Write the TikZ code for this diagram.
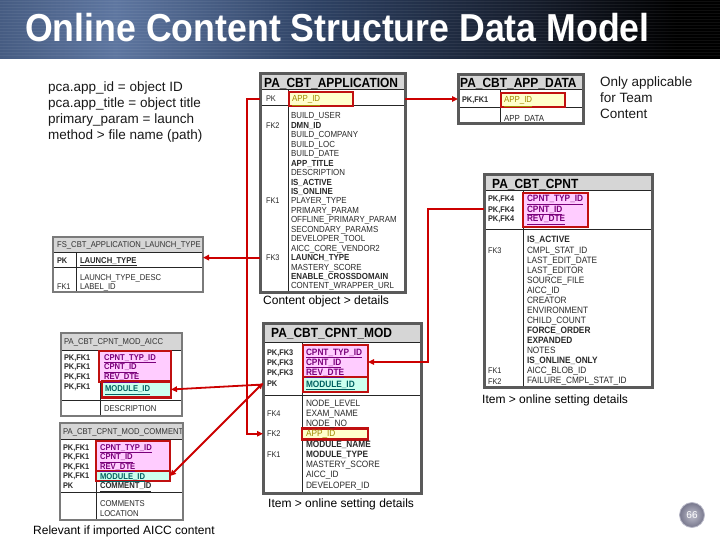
\documentclass[tikz,border=0pt]{standalone}
\usepackage{fontspec}
\setmainfont{Liberation Sans}
\newfontfamily\nfont[FakeStretch=0.9]{Liberation Sans}
\newfontfamily\tfont[FakeStretch=0.915]{Liberation Sans}
\usetikzlibrary{arrows.meta}
\definecolor{redc}{HTML}{CC0000}
\definecolor{boxred}{HTML}{C01010}
\definecolor{yel}{HTML}{FFFFCC}
\definecolor{pinkf}{HTML}{FFCCFF}
\definecolor{cyanf}{HTML}{CCFFEE}
\definecolor{purp}{HTML}{7A007A}
\definecolor{tealc}{HTML}{006060}
\definecolor{olivec}{HTML}{A08A00}
\definecolor{hdrg}{HTML}{D6D6D6}
\definecolor{bordc}{HTML}{5A5A5A}
\definecolor{bordc2}{HTML}{7A7A7A}
\definecolor{fldc}{HTML}{2A2A2A}
\definecolor{tbA}{HTML}{465C82}
\definecolor{tbB}{HTML}{5E76A0}
\definecolor{tbC}{HTML}{2E4264}
\definecolor{tbD}{HTML}{161D2C}
\definecolor{badgec}{RGB}{140,140,165}
\pgfdeclarehorizontalshading{titleshade}{100bp}{color(0bp)=(tbA); color(25bp)=(tbA); color(33bp)=(tbB); color(47bp)=(tbC); color(62bp)=(tbD); color(72bp)=(black); color(100bp)=(black)}
\begin{document}
\begin{tikzpicture}[x=1pt,y=-1pt,
  tblbg/.style={fill=white, draw=none, inner sep=0, outer sep=0, anchor=north west},
  hband/.style={fill=hdrg, draw=none, inner sep=0, outer sep=0, anchor=north west},
  bigborder/.style={draw=bordc, line width=3},
  smallborder/.style={draw=bordc2, line width=2},
  inner/.style={draw=black!85, line width=1},
  redbox/.style={draw=boxred, line width=2.4, inner sep=0, outer sep=0, anchor=north west},
  hbig/.style={font=\nfont\bfseries\fontsize{13.3}{14}\selectfont, inner sep=0, anchor=west, text height=9.5pt, text depth=0pt},
  hsmall/.style={font=\nfont\fontsize{8.5}{9}\selectfont, inner sep=0, anchor=west, text height=6pt, text depth=0pt, text=black!80},
  fbase/.style={text=fldc, inner sep=0, outer sep=0, anchor=west, text height=6pt, text depth=0pt},
  fan/.style={fbase, font=\nfont\fontsize{8.8}{9}\selectfont},
  fab/.style={fbase, font=\nfont\bfseries\fontsize{8.8}{9}\selectfont},
  fcn/.style={fbase, font=\nfont\fontsize{9.2}{9}\selectfont},
  fcb/.style={fbase, font=\nfont\bfseries\fontsize{9.2}{9}\selectfont},
  fco/.style={fcn, text=olivec},
  fsn/.style={fbase, font=\nfont\fontsize{8.5}{9}\selectfont},
  fsb/.style={fbase, font=\nfont\bfseries\fontsize{8.5}{9}\selectfont},
  keyn/.style={fbase, font=\nfont\fontsize{8.2}{9}\selectfont},
  keyb/.style={fbase, font=\nfont\bfseries\fontsize{8.2}{9}\selectfont},
  pkp/.style={fbase, text=purp},
  pkt/.style={fbase, text=tealc},
  pko/.style={fbase, text=olivec},
  caption/.style={font=\fontsize{12}{14}\selectfont, inner sep=0, anchor=base west, text=black},
  desc/.style={font=\fontsize{13.5}{16}\selectfont, inner sep=0, anchor=base west, text=black!90},
  conn/.style={draw=redc, line width=1.8, -{Triangle[length=6pt,width=5.5pt]}},
  conn2/.style={draw=redc, line width=1.8, {Triangle[length=6pt,width=5.5pt]}-{Triangle[length=6pt,width=5.5pt]}}
]
\useasboundingbox (0,0) rectangle (720,540);
\fill[white] (0,0) rectangle (720,540);
% ---------- title bar
\shade[shading=titleshade] (0,0) rectangle (720,59);
\foreach \yy in {1.5,4.5,...,58} \draw[white, opacity=0.06, line width=0.8] (0,\yy) -- (720,\yy);
\node[font=\tfont\bfseries\fontsize{39}{40}\selectfont, text=white, inner sep=0, anchor=base west] (title) at (25,42) {Online Content Structure Data Model};

% ---------- description texts
\node[desc] (d1) at (48,92) {pca.app\_id = object ID};
\node[desc] (d2) at (48,108) {pca.app\_title = object title};
\node[desc] (d3) at (48,124) {primary\_param = launch};
\node[desc] (d4) at (48,140) {method > file name (path)};
\node[desc] (o1) at (600,87) {Only applicable};
\node[desc] (o2) at (600,103) {for Team};
\node[desc] (o3) at (600,119) {Content};

% ---------- PA_CBT_APPLICATION
\node[tblbg, minimum width=145, minimum height=218] (app) at (260,74) {};
\node[hband, minimum width=145, minimum height=16] (app-h) at (260,74) {};
\node[hbig] (app-t) at (264,82.5) {PA\_CBT\_APPLICATION};
\draw[inner] (260,90) -- (405,90);
\draw[inner] (288,90) -- (288,292);
\draw[inner] (260,106) -- (405,106);
\node[redbox, fill=yel, minimum width=64, minimum height=14] (app-pk) at (289,92) {};
\node[keyn] (app-kpk) at (266,98.5) {PK};
\node[fan, pko] (app-pkf) at (292,99) {\underline{APP\_ID}};
\begin{scope}
\clip (260,74) rectangle (405,290.5);
\foreach [count=\i from 0] \t/\w in {BUILD\_USER/n, DMN\_ID/b, BUILD\_COMPANY/n, BUILD\_LOC/n, BUILD\_DATE/n, APP\_TITLE/b, DESCRIPTION/n, IS\_ACTIVE/b, IS\_ONLINE/b, PLAYER\_TYPE/n, PRIMARY\_PARAM/n, OFFLINE\_PRIMARY\_PARAM/n, SECONDARY\_PARAMS/n, DEVELOPER\_TOOL/n, AICC\_CORE\_VENDOR2/n, LAUNCH\_TYPE/b, MASTERY\_SCORE/n, ENABLE\_CROSSDOMAIN/b, CONTENT\_WRAPPER\_URL/n}
  \node[fa\w] (app-f\i) at (291,{116+9.44*\i}) {\t};
\end{scope}
\node[keyn] (app-k2) at (266,125.4) {FK2};
\node[keyn] (app-k1) at (266,201) {FK1};
\node[keyn] (app-k3) at (266,257.6) {FK3};
\draw[bigborder] (app.north west) rectangle (app.south east);
\node[caption] (cap1) at (263,304) {Content object > details};

% ---------- PA_CBT_APP_DATA
\node[tblbg, minimum width=125, minimum height=49] (ad) at (458,75) {};
\node[hband, minimum width=125, minimum height=15] (ad-h) at (458,75) {};
\node[hbig] (ad-t) at (460,83) {PA\_CBT\_APP\_DATA};
\draw[inner] (458,90) -- (583,90);
\draw[inner] (500,90) -- (500,124);
\draw[inner] (458,108) -- (583,108);
\node[redbox, fill=yel, minimum width=64, minimum height=14] (ad-pk) at (501,93) {};
\node[keyb] (ad-kpk) at (462,99.5) {PK,FK1};
\node[fan, pko] (ad-pkf) at (504,100) {\underline{APP\_ID}};
\begin{scope}
\clip (458,75) rectangle (583,122.5);
\node[fan] (ad-f1) at (504,119) {APP\_DATA};
\end{scope}
\draw[bigborder] (ad.north west) rectangle (ad.south east);

% ---------- PA_CBT_CPNT
\node[tblbg, minimum width=168, minimum height=212] (cpnt) at (484,175) {};
\node[hband, minimum width=168, minimum height=16] (cpnt-h) at (484,175) {};
\node[hbig] (cpnt-t) at (492,183.5) {PA\_CBT\_CPNT};
\draw[inner] (484,191) -- (652,191);
\draw[inner] (523,191) -- (523,387);
\draw[inner] (484,230) -- (652,230);
\node[redbox, fill=pinkf, minimum width=65, minimum height=34] (cpnt-pk) at (523,193) {};
\node[keyb] (cpnt-k0) at (488,199) {PK,FK4};
\node[keyb] (cpnt-k1) at (488,209) {PK,FK4};
\node[keyb] (cpnt-k2) at (488,218.5) {PK,FK4};
\node[fcb, pkp] (cpnt-p0) at (527,199) {\underline{CPNT\_TYP\_ID}};
\node[fcb, pkp] (cpnt-p1) at (527,209) {\underline{CPNT\_ID}};
\node[fcb, pkp] (cpnt-p2) at (527,218.5) {\underline{REV\_DTE}};
\foreach [count=\i from 0] \t/\w in {IS\_ACTIVE/b, CMPL\_STAT\_ID/n, LAST\_EDIT\_DATE/n, LAST\_EDITOR/n, SOURCE\_FILE/n, AICC\_ID/n, CREATOR/n, ENVIRONMENT/n, CHILD\_COUNT/n, FORCE\_ORDER/b, EXPANDED/b, NOTES/n, IS\_ONLINE\_ONLY/b, AICC\_BLOB\_ID/n, FAILURE\_CMPL\_STAT\_ID/n}
  \node[fc\w] (cpnt-f\i) at (527,{240+10.07*\i}) {\t};
\node[keyn] (cpnt-k3) at (488,250.1) {FK3};
\node[keyn] (cpnt-k4) at (488,370.9) {FK1};
\node[keyn] (cpnt-k5) at (488,381) {FK2};
\draw[bigborder] (cpnt.north west) rectangle (cpnt.south east);
\node[caption] (cap2) at (482,403) {Item > online setting details};

% ---------- FS_CBT_APPLICATION_LAUNCH_TYPE
\node[tblbg, minimum width=150, minimum height=55] (fs) at (53,237) {};
\node[hband, minimum width=150, minimum height=15] (fs-h) at (53,237) {};
\node[hsmall] (fs-t) at (57,244.5) {FS\_CBT\_APPLICATION\_LAUNCH\_TYPE};
\draw[inner] (53,252) -- (203,252);
\draw[inner] (76,252) -- (76,292);
\draw[inner] (53,267) -- (203,267);
\node[keyb] (fs-kpk) at (57,260) {PK};
\node[fsb] (fs-pk) at (80,260) {\underline{LAUNCH\_TYPE}};
\node[fsn] (fs-f1) at (80,277) {LAUNCH\_TYPE\_DESC};
\node[fsn] (fs-f2) at (80,286) {LABEL\_ID};
\node[keyn] (fs-k1) at (57,286) {FK1};
\draw[smallborder] (fs.north west) rectangle (fs.south east);

% ---------- PA_CBT_CPNT_MOD_AICC
\node[tblbg, minimum width=121, minimum height=83] (aicc) at (61,333) {};
\node[hband, minimum width=121, minimum height=17] (aicc-h) at (61,333) {};
\node[hsmall] (aicc-t) at (64,341.5) {PA\_CBT\_CPNT\_MOD\_AICC};
\draw[inner] (61,350) -- (182,350);
\draw[inner] (100,350) -- (100,416);
\draw[inner] (61,400) -- (182,400);
\node[redbox, fill=pinkf, minimum width=72, minimum height=31] (aicc-pk1) at (99,351) {};
\node[redbox, fill=cyanf, minimum width=69, minimum height=16] (aicc-pk2) at (102,381.5) {};
\foreach [count=\i from 0] \t in {CPNT\_TYP\_ID, CPNT\_ID, REV\_DTE}
  \node[fsb, pkp] (aicc-p\i) at (104,{357+9.8*\i}) {\underline{\t}};
\node[fsb, pkt] (aicc-p3) at (105,388.5) {\underline{MODULE\_ID}};
\foreach \i in {0,1,2,3}
  \node[keyb] (aicc-k\i) at (64,{357+9.9*\i}) {PK,FK1};
\node[fsn] (aicc-f1) at (104,408) {DESCRIPTION};
\draw[smallborder] (aicc.north west) rectangle (aicc.south east);

% ---------- PA_CBT_CPNT_MOD_COMMENT
\node[tblbg, minimum width=123, minimum height=97] (cmt) at (60,423) {};
\node[hband, minimum width=123, minimum height=16] (cmt-h) at (60,423) {};
\node[hsmall] (cmt-t) at (63,431) {PA\_CBT\_CPNT\_MOD\_COMMENT};
\draw[inner] (60,439) -- (183,439);
\draw[inner] (96,439) -- (96,520);
\draw[inner] (60,492) -- (183,492);
\node[redbox, fill=pinkf, minimum width=74, minimum height=30] (cmt-pk1) at (96,441) {};
\node[redbox, fill=cyanf, minimum width=74, minimum height=10] (cmt-pk2) at (96,471) {};
\foreach [count=\i from 0] \t in {CPNT\_TYP\_ID, CPNT\_ID, REV\_DTE}
  \node[fsb, pkp] (cmt-p\i) at (100,{447+9.6*\i}) {\underline{\t}};
\node[fsb, pkt] (cmt-p3) at (100,476) {\underline{MODULE\_ID}};
\node[fsb] (cmt-p4) at (100,485.5) {\underline{COMMENT\_ID}};
\foreach \i in {0,1,2,3}
  \node[keyb] (cmt-k\i) at (63,{447+9.6*\i}) {PK,FK1};
\node[keyb] (cmt-k4) at (63,485.5) {PK};
\node[fsn] (cmt-f1) at (100,503) {COMMENTS};
\node[fsn] (cmt-f2) at (100,513) {LOCATION};
\draw[smallborder] (cmt.north west) rectangle (cmt.south east);
\node[caption] (cap4) at (33,534) {Relevant if imported AICC content};

% ---------- PA_CBT_CPNT_MOD
\node[tblbg, minimum width=158, minimum height=170] (mod) at (263,323) {};
\node[hband, minimum width=158, minimum height=19] (mod-h) at (263,323) {};
\node[hbig] (mod-t) at (271,332.5) {PA\_CBT\_CPNT\_MOD};
\draw[inner] (263,342) -- (421,342);
\draw[inner] (302,342) -- (302,493);
\draw[inner] (263,395) -- (421,395);
\node[redbox, fill=pinkf, minimum width=65, minimum height=32] (mod-pk1) at (303,345) {};
\node[redbox, fill=cyanf, minimum width=65, minimum height=15] (mod-pk2) at (303,377) {};
\foreach [count=\i from 0] \t in {CPNT\_TYP\_ID, CPNT\_ID, REV\_DTE}
  \node[fcb, pkp] (mod-p\i) at (306,{352+10*\i}) {\underline{\t}};
\node[fcb, pkt] (mod-p3) at (306,384) {\underline{MODULE\_ID}};
\foreach \i in {0,1,2}
  \node[keyb] (mod-k\i) at (267,{352+10*\i}) {PK,FK3};
\node[keyb] (mod-k3) at (267,383) {PK};
\node[redbox, fill=yel, minimum width=66, minimum height=11] (mod-app) at (302,428.5) {};
\foreach [count=\i from 0] \t/\w in {NODE\_LEVEL/n, EXAM\_NAME/n, NODE\_NO/n, APP\_ID/o, MODULE\_NAME/b, MODULE\_TYPE/b, MASTERY\_SCORE/n, AICC\_ID/n, DEVELOPER\_ID/n}
  \node[fc\w] (mod-f\i) at (306,{403+10.25*\i}) {\t};
\node[keyn] (mod-k4) at (267,413.25) {FK4};
\node[keyn] (mod-k5) at (267,433.75) {FK2};
\node[keyn] (mod-k6) at (267,454.25) {FK1};
\draw[bigborder] (mod.north west) rectangle (mod.south east);
\node[caption] (cap3) at (268,507) {Item > online setting details};

% ---------- connectors
\draw[conn] (app.east |- app-pk) -- (ad.west |- app-pk);
\draw[conn] (app.west |- app-pk) -- ++(-13,0) |- (mod.west |- mod-k5);
\draw[conn] (app.west |- app-f15) -- (fs.east |- app-f15);
\draw[conn] (cpnt.west |- cpnt-k1) -- ++(-56,0) |- (mod-pk1.east |- mod-p1);
\draw[conn] (mod.west |- mod-pk2) -- (aicc-pk2.east);
\draw[conn2] (cmt-pk2.east) -- (mod.west |- mod-k3);

% ---------- page badge
\node[circle, minimum size=25, inner sep=0, inner color=badgec!55!white, outer color=badgec!85!black, draw=badgec!60!white, line width=0.8, text=white, font=\fontsize{10}{10}\selectfont] (badge) at (692,515) {66};
\end{tikzpicture}
\end{document}
